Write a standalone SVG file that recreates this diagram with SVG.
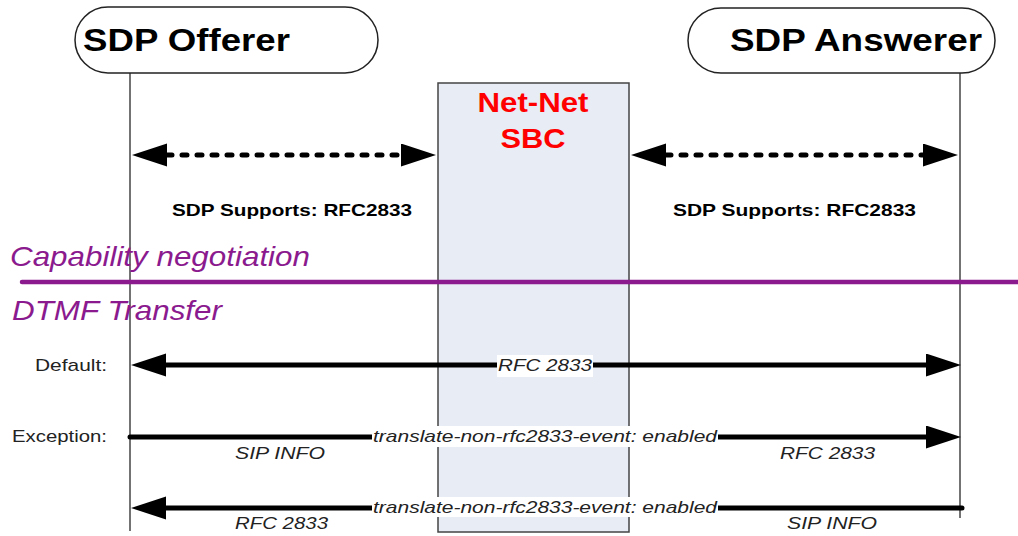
<svg xmlns="http://www.w3.org/2000/svg" width="1018" height="536" viewBox="0 0 1018 536">
<style>
.title{font-family:"Liberation Sans",Arial,sans-serif;font-weight:bold;font-size:31px;fill:#000}
.sbc{font-family:"Liberation Sans",Arial,sans-serif;font-weight:bold;font-size:28px;fill:#ff0000}
.sup{font-family:"Liberation Sans",Arial,sans-serif;font-weight:bold;font-size:17px;fill:#000}
.sec{font-family:"Liberation Sans",Arial,sans-serif;font-style:italic;font-size:28px;fill:#8b1a8e}
.lbl{font-family:"Liberation Sans",Arial,sans-serif;font-size:17px;fill:#222}
.it{font-family:"Liberation Sans",Arial,sans-serif;font-style:italic;font-size:17px;fill:#222}
.life{stroke:#444;stroke-width:1.5;fill:none}
.node{fill:#fff;stroke:#222;stroke-width:1.5}
.sol{stroke:#000;stroke-width:5;fill:none}
.dash{stroke:#000;stroke-width:5;fill:none;stroke-dasharray:5 10;stroke-linecap:round}
.bg{fill:#fff}
</style>
<defs>
<marker id="ah" markerUnits="userSpaceOnUse" markerWidth="36" markerHeight="24" refX="0" refY="11.5" orient="auto-start-reverse">
<path d="M0,0 L35,11.5 L0,23 z" fill="#000"/>
</marker>
</defs>
<g id="sbc">
<rect x="438" y="83" width="191" height="449" fill="#e8ecf5" stroke="#444" stroke-width="1.5"/>
<text class="sbc" x="533" y="112" text-anchor="middle" textLength="111" lengthAdjust="spacingAndGlyphs">Net-Net</text>
<text class="sbc" x="533" y="148" text-anchor="middle" textLength="65" lengthAdjust="spacingAndGlyphs">SBC</text>
</g>
<g id="lifelines">
<line class="life" x1="130" y1="73" x2="130" y2="531"/>
<line class="life" x1="960" y1="73" x2="960" y2="518"/>
</g>
<g id="offerer">
<rect class="node" x="75" y="7" width="303" height="66" rx="33" ry="33"/>
<text class="title" x="83" y="51" textLength="207" lengthAdjust="spacingAndGlyphs">SDP Offerer</text>
</g>
<g id="answerer">
<rect class="node" x="688" y="8" width="307" height="65" rx="33" ry="33"/>
<text class="title" x="730" y="51" textLength="252" lengthAdjust="spacingAndGlyphs">SDP Answerer</text>
</g>
<g id="sections">
<text class="sec" x="10" y="266" textLength="300" lengthAdjust="spacingAndGlyphs">Capability negotiation</text>
<line x1="22" y1="282" x2="1018" y2="282" stroke="#8b1a8e" stroke-width="4.5" stroke-linecap="round"/>
<text class="sec" x="12" y="320" textLength="210" lengthAdjust="spacingAndGlyphs">DTMF Transfer</text>
</g>
<g id="connectors">
<path class="dash" d="M167,155 L401,155" marker-start="url(#ah)" marker-end="url(#ah)"/>
<path class="dash" d="M666,155 L923,155" marker-start="url(#ah)" marker-end="url(#ah)"/>
<path class="sol" d="M166,365 L926,365" marker-start="url(#ah)" marker-end="url(#ah)"/>
<path class="sol" d="M130,437 L926,437" stroke-linecap="round" marker-end="url(#ah)"/>
<path class="sol" d="M962,508 L166,508" stroke-linecap="round" marker-end="url(#ah)"/>
</g>
<g id="labels">
<text class="sup" x="172" y="216" textLength="240" lengthAdjust="spacingAndGlyphs">SDP Supports: RFC2833</text>
<text class="sup" x="673" y="216" textLength="243" lengthAdjust="spacingAndGlyphs">SDP Supports: RFC2833</text>
<text class="lbl" x="107" y="371" text-anchor="end" textLength="72" lengthAdjust="spacingAndGlyphs">Default:</text>
<text class="lbl" x="107" y="442" text-anchor="end" textLength="95" lengthAdjust="spacingAndGlyphs">Exception:</text>
<rect class="bg" x="497" y="355" width="96" height="22"/>
<text class="it" x="545" y="371" text-anchor="middle" textLength="94" lengthAdjust="spacingAndGlyphs">RFC 2833</text>
<rect class="bg" x="372" y="426" width="346" height="21"/>
<text class="it" x="545" y="442" text-anchor="middle" textLength="344" lengthAdjust="spacingAndGlyphs">translate-non-rfc2833-event: enabled</text>
<rect class="bg" x="372" y="497" width="346" height="20"/>
<text class="it" x="545" y="513" text-anchor="middle" textLength="344" lengthAdjust="spacingAndGlyphs">translate-non-rfc2833-event: enabled</text>
<text class="it" x="235" y="459" textLength="90" lengthAdjust="spacingAndGlyphs">SIP INFO</text>
<text class="it" x="780" y="459" textLength="95" lengthAdjust="spacingAndGlyphs">RFC 2833</text>
<text class="it" x="235" y="529" textLength="93" lengthAdjust="spacingAndGlyphs">RFC 2833</text>
<text class="it" x="787" y="529" textLength="90" lengthAdjust="spacingAndGlyphs">SIP INFO</text>
</g>
</svg>
